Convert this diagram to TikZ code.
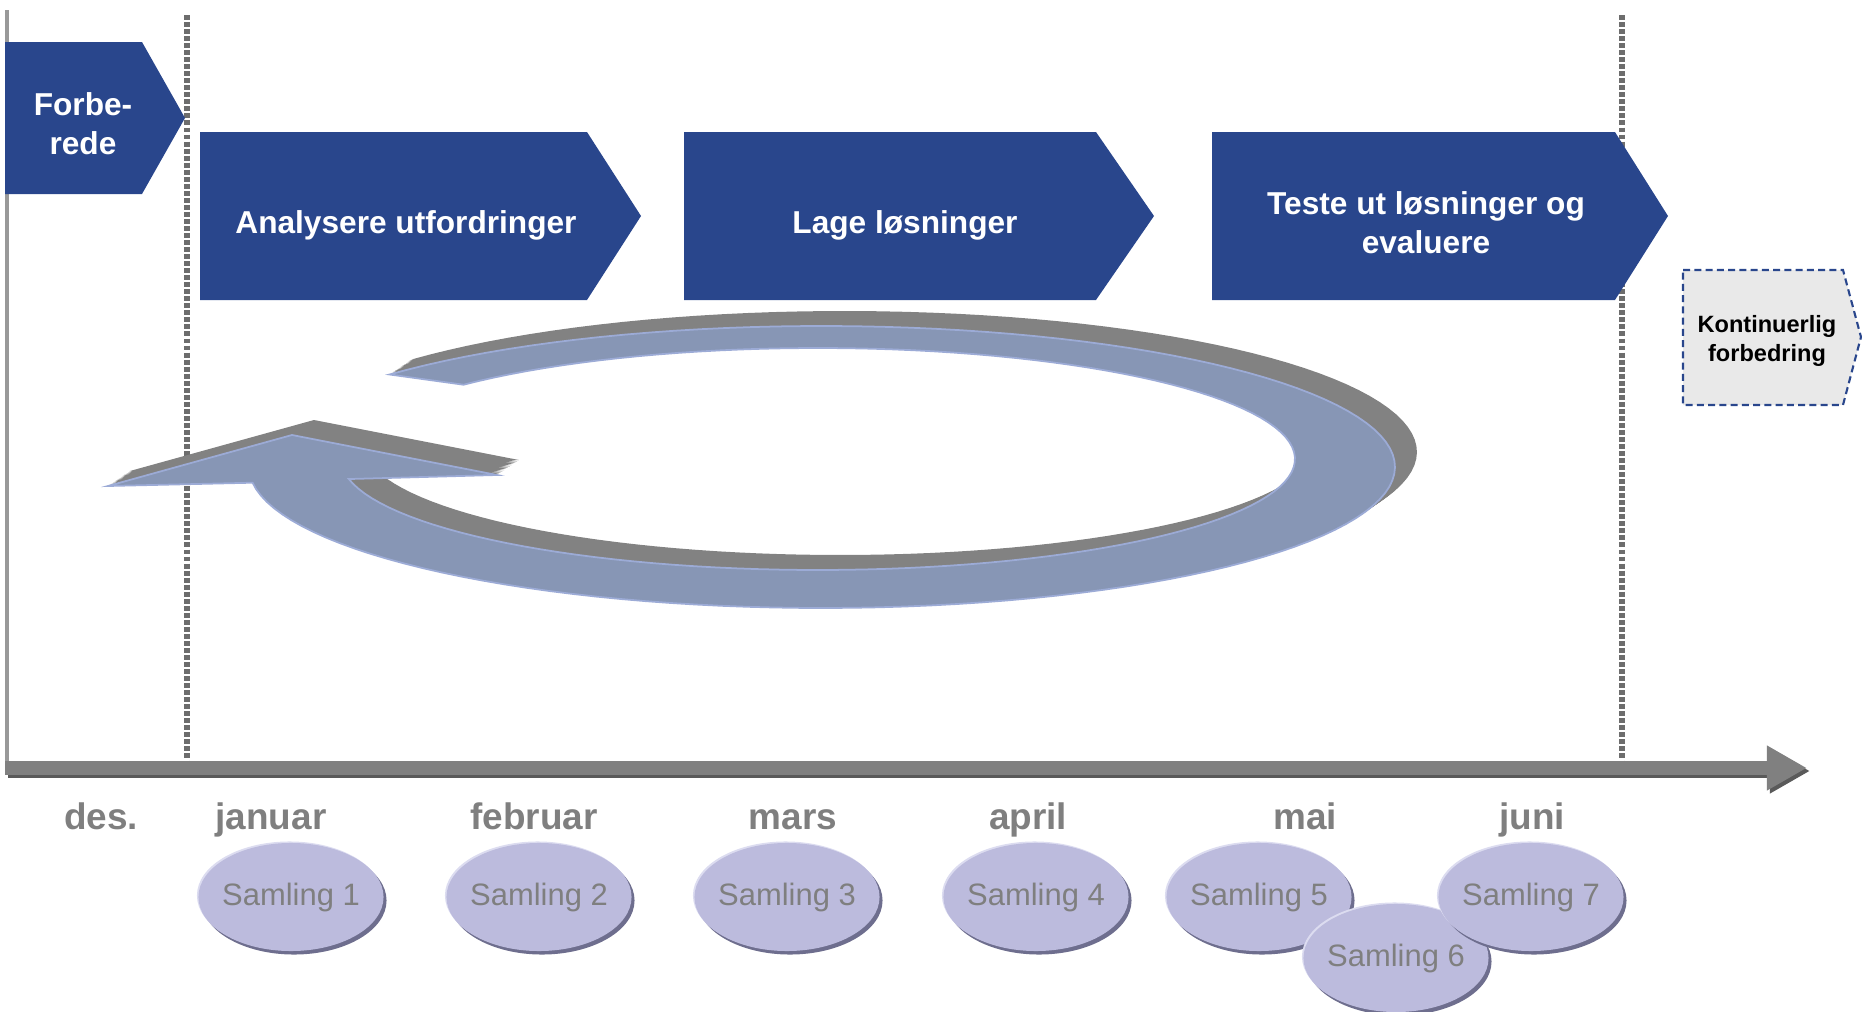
\documentclass[tikz,border=0pt]{standalone}
\usepackage{fontspec}
\setmainfont{Liberation Sans}
\usetikzlibrary{arrows.meta,shapes.geometric,shadows}
\definecolor{phaseblue}{HTML}{29468C}
\definecolor{ringblue}{HTML}{8796B5}
\definecolor{ringrim}{HTML}{9CABD6}
\definecolor{ringshade}{HTML}{828282}
\definecolor{samfill}{HTML}{BCBBDD}
\definecolor{samshade}{HTML}{6E6E8E}
\definecolor{samlight}{HTML}{DCDCF0}
\definecolor{labelgray}{HTML}{7F7F7F}
\definecolor{axisgray}{HTML}{808080}
\definecolor{kontfill}{HTML}{E9E9E9}
\newcommand{\cyclepath}{plot[domain=221:533.6,samples=120] ({822+573*cos(\x)},{467+141*sin(\x)}) -- (108,486) -- (292,435) -- (497,475) -- plot[domain=529.6:222,samples=120] ({818+477*cos(\x)},{459+111*sin(\x)}) -- cycle}

\begin{document}
\begin{tikzpicture}[
      x=0.01cm, y=-0.01cm,
      phase/.style={fill=phaseblue},
      phasetext/.style={text=white, font=\fontsize{9}{11}\selectfont\bfseries, align=center, inner sep=0pt},
      kont/.style={fill=kontfill, draw=phaseblue, dashed, line width=0.6pt, dash pattern=on 2pt off 1.2pt},
      konttext/.style={text=black, font=\fontsize{6.7}{8}\selectfont\bfseries, align=center, inner sep=0pt},
      divider/.style={draw=axisgray!85!black, line width=1.5pt, dash pattern=on 1.4pt off 0.6pt},
      vaxis/.style={draw=axisgray!80, line width=1.2pt},
      axis/.style={-{Triangle[length=4mm, width=4.2mm]}, line width=4.2pt, draw=axisgray, fill=axisgray},
      month/.style={anchor=base, text=labelgray, font=\fontsize{10.5}{12}\selectfont\bfseries, inner sep=0pt},
      samling/.style={ellipse, fill=samfill, minimum width=1.85cm, minimum height=1.08cm, inner xsep=-1mm, inner ysep=0pt,
        text=labelgray, font=\fontsize{8.8}{10}\selectfont,
        copy shadow={shadow xshift=0.3mm, shadow yshift=-0.35mm, fill=samshade, draw=none},
        copy shadow={shadow xshift=-0.15mm, shadow yshift=0.15mm, fill=samlight, draw=none}}
    ]
    \useasboundingbox (0,0) rectangle (1862,1012);

    % time guides
    \draw[vaxis] (7,10) -- (7,772);
    \draw[divider] (187,15) -- (187,770);
    \draw[divider] (1622,15) -- (1622,770);

    % cycle arrow
    \foreach \k in {12,11,...,1}
      \fill[ringshade, shift={(1.83*\k,-1.25*\k)}] \cyclepath;
    \fill[ringblue, draw=ringrim, line width=0.5pt] \cyclepath;

    % phases
    \fill[phase] (5,42) -- (142,42) -- (185,118) -- (142,194) -- (5,194) -- cycle;
    \node[phasetext] (forbe) at (83,124) {Forbe-\\rede};
    \fill[phase] (200,132) -- (587,132) -- (641,216) -- (587,300) -- (200,300) -- cycle;
    \node[phasetext] (analyse) at (406,225) {Analysere utfordringer};
    \fill[phase] (684,132) -- (1096,132) -- (1154,216) -- (1096,300) -- (684,300) -- cycle;
    \node[phasetext] (lage) at (905,225) {Lage løsninger};
    \fill[phase] (1212,132) -- (1615,132) -- (1668,216) -- (1615,300) -- (1212,300) -- cycle;
    \node[phasetext] (teste) at (1426,223) {Teste ut løsninger og\\evaluere};
    \draw[kont] (1683,270) -- (1843,270) -- (1861,337) -- (1843,405) -- (1683,405) -- cycle;
    \node[konttext] (kont) at (1767,341) {Kontinuerlig\\forbedring};

    % time axis
    \coordinate (origin) at (5,768);
    \coordinate (axisend) at (1807,768);
    \draw[axis, draw=axisgray!70!black, fill=axisgray!70!black] ([xshift=0.3mm,yshift=-0.3mm]origin) -- ([xshift=0.3mm,yshift=-0.3mm]axisend);
    \draw[axis] (origin) -- (axisend);

    % months
    \node[month] (des) at (101,829) {des.};
    \node[month] (jan) at (271,829) {januar};
    \node[month] (feb) at (534,829) {februar};
    \node[month] (mar) at (793,829) {mars};
    \node[month] (apr) at (1028,829) {april};
    \node[month] (mai) at (1305,829) {mai};
    \node[month] (jun) at (1532,829) {juni};

    % samlinger
    \node[samling] (s1) at (291,897) {Samling 1};
    \node[samling] (s2) at (539,897) {Samling 2};
    \node[samling] (s3) at (787,897) {Samling 3};
    \node[samling] (s4) at (1036,897) {Samling 4};
    \node[samling] (s5) at (1259,897) {Samling 5};
    \node[samling] (s6) at (1396,958) {Samling 6};
    \node[samling] (s7) at (1531,897) {Samling 7};
  \end{tikzpicture}
\end{document}
